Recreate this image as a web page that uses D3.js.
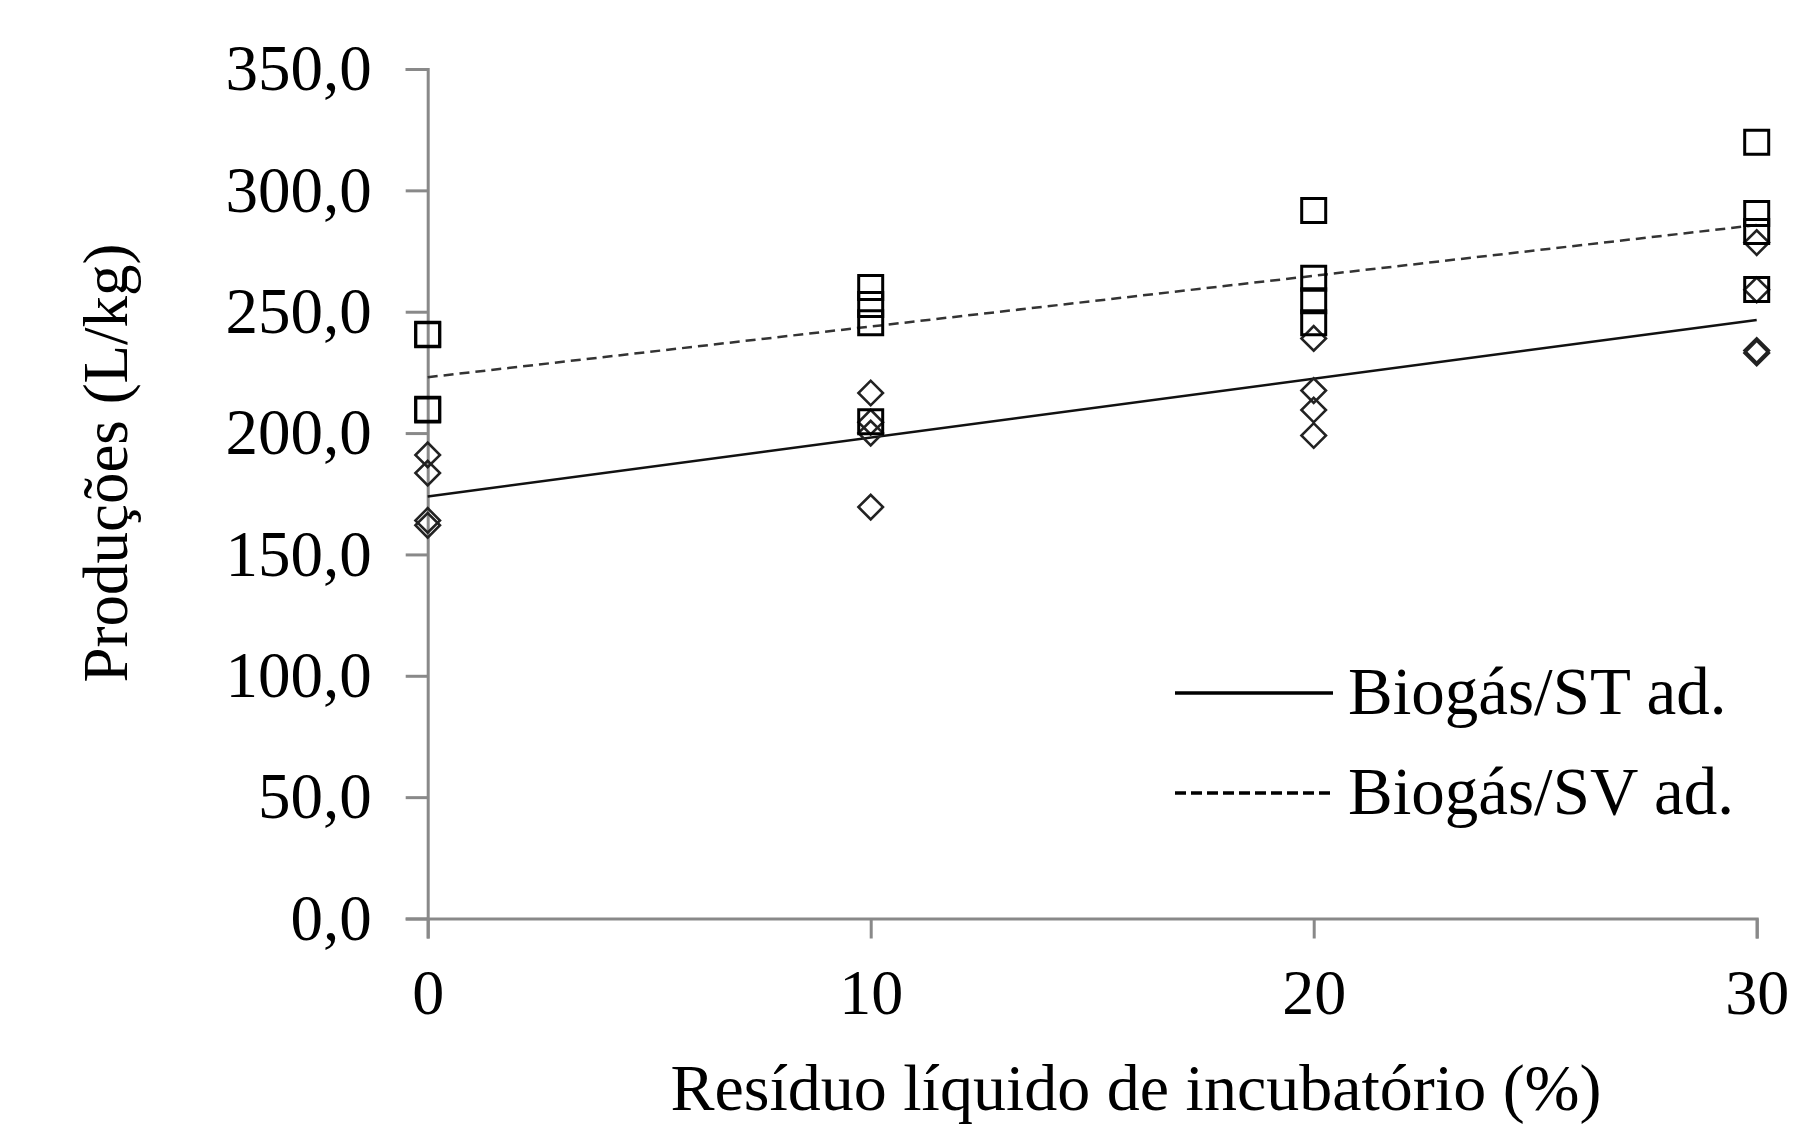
<!DOCTYPE html>
<html>
<head>
<meta charset="utf-8">
<script src="https://cdn.jsdelivr.net/npm/d3@7"></script>
<style>
  body { margin: 0; background: #fff; }
  text { font-family: "Liberation Serif", "Times New Roman", serif; fill: #000; }
</style>
</head>
<body>
<div id="chart"></div>
<script>
// x categories (% residuo liquido)
const levels = [0, 10, 20, 30]
// Biogás/ST ad. observations (diamonds), one list per level
const stValues = [
  [191, 183.5, 164, 162],
  [216.5, 204.5, 200, 169.5],
  [239, 217.5, 209.5, 199],
  [278.5, 259, 234, 233]
]
// Biogás/SV ad. observations (squares)
const svValues = [
  [240.7, 240.5, 209.8, 209.5],
  [260, 253, 245.5, 204.7],
  [291.7, 263.8, 254.5, 245.5],
  [319.8, 290.5, 283, 259.2]
]
// fitted lines, value at x = 0 and x = 30
const stLine = [173.9, 246.6]
const svLine = [223, 285.7]
const yTicks = [0, 50, 100, 150, 200, 250, 300, 350]
const xTicks = [0, 10, 20, 30]
const legendLabels = ["Biogás/ST ad.", "Biogás/SV ad."]

const width = 1812
const height = 1127
const margin = { left: 427.7, right: 55.3, top: 69, bottom: 208.5 }

const svg = d3.select("#chart").append("svg")
  .attr("width", width)
  .attr("height", height)

const x = d3.scaleLinear().domain([0, 30]).range([margin.left, width - margin.right])
const y = d3.scaleLinear().domain([0, 350]).range([height - margin.bottom, margin.top])

const fmt = d => d3.format(".1f")(d).replace(".", ",")
const axisColor = "#898989"

// y axis
const yAxis = svg.append("g")
  .attr("transform", `translate(${margin.left},0)`)
  .call(d3.axisLeft(y).tickValues(yTicks).tickFormat(fmt).tickSize(22).tickPadding(34))
yAxis.select(".domain").attr("stroke", axisColor).attr("stroke-width", 3)
yAxis.selectAll(".tick line").attr("stroke", axisColor).attr("stroke-width", 3)
yAxis.selectAll(".tick text")
  .attr("font-size", 65)
  .attr("font-family", "Liberation Serif")
  .attr("fill", "#000")

// x axis
const xAxis = svg.append("g")
  .attr("transform", `translate(0,${y(0)})`)
  .call(d3.axisBottom(x).tickValues(xTicks).tickFormat(d3.format("d")).tickSize(20).tickPadding(30))
xAxis.select(".domain").attr("stroke", axisColor).attr("stroke-width", 3)
xAxis.selectAll(".tick line").attr("stroke", axisColor).attr("stroke-width", 3)
xAxis.selectAll(".tick text")
  .attr("font-size", 64)
  .attr("font-family", "Liberation Serif")
  .attr("fill", "#000")

// axis titles
svg.append("text")
  .attr("x", 1136)
  .attr("y", 1110)
  .attr("text-anchor", "middle")
  .attr("font-size", 66)
  .text("Resíduo líquido de incubatório (%)")

svg.append("text")
  .attr("transform", "translate(106,463) rotate(-90)")
  .attr("text-anchor", "middle")
  .attr("dominant-baseline", "central")
  .attr("font-size", 63)
  .text("Produções (L/kg)")

// trend lines
const line = d3.line().x(d => x(d[0])).y(d => y(d[1]))
svg.append("path")
  .datum([[0, stLine[0]], [30, stLine[1]]])
  .attr("d", line)
  .attr("fill", "none")
  .attr("stroke", "#111")
  .attr("stroke-width", 2.5)
svg.append("path")
  .datum([[0, svLine[0]], [30, svLine[1]]])
  .attr("d", line)
  .attr("fill", "none")
  .attr("stroke", "#333")
  .attr("stroke-width", 2.5)
  .attr("stroke-dasharray", "10,6")

// points
const flat = (vals) => vals.flatMap((arr, i) => arr.map(v => ({ x: levels[i], v })))

const diamond = d3.symbol().type(d3.symbolSquare).size(300)
svg.append("g").selectAll("path")
  .data(flat(stValues))
  .enter()
  .append("path")
  .attr("d", diamond)
  .attr("transform", d => `translate(${x(d.x)},${y(d.v)}) rotate(45)`)
  .attr("fill", "none")
  .attr("stroke", "#222")
  .attr("stroke-width", 2.6)

const square = d3.symbol().type(d3.symbolSquare).size(576)
svg.append("g").selectAll("path")
  .data(flat(svValues))
  .enter()
  .append("path")
  .attr("d", square)
  .attr("transform", d => `translate(${x(d.x)},${y(d.v)})`)
  .attr("fill", "none")
  .attr("stroke", "#000")
  .attr("stroke-width", 3)

// legend
const legend = svg.append("g")
const legendRows = [
  { label: legendLabels[0], dash: null, ly: 693 },
  { label: legendLabels[1], dash: "11,5", ly: 793 }
]
legendRows.forEach(r => {
  legend.append("line")
    .attr("x1", 1175).attr("x2", 1333)
    .attr("y1", r.ly).attr("y2", r.ly)
    .attr("stroke", "#000")
    .attr("stroke-width", 3.5)
    .attr("stroke-dasharray", r.dash)
  legend.append("text")
    .attr("x", 1348)
    .attr("y", r.ly + 21)
    .attr("font-size", 67)
    .text(r.label)
})
</script>
</body>
</html>
